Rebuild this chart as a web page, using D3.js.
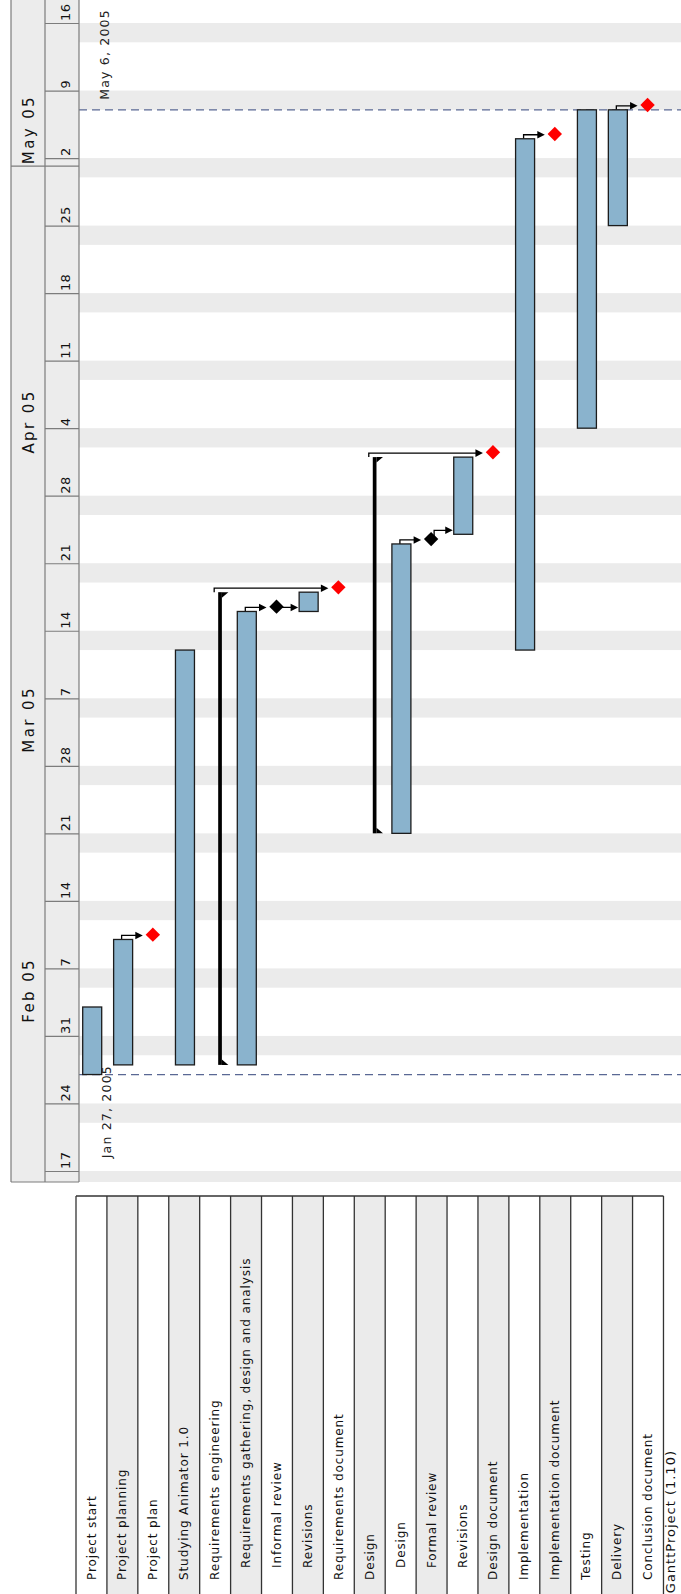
<!DOCTYPE html>
<html>
<head>
<meta charset="utf-8">
<script src="https://cdn.jsdelivr.net/npm/d3@7"></script>
<style>
  html, body { margin: 0; padding: 0; background: #ffffff; }
  svg { display: block; }
  text { font-family: "DejaVu Sans", "Noto Sans", sans-serif; }
</style>
</head>
<body>
<svg id="chart" width="681" height="1594"></svg>
<script>
// ---- Project data ---------------------------------------------------------
const taskNames = [
  "Project start",
  "Project planning",
  "Project plan",
  "Studying Animator 1.0",
  "Requirements engineering",
  "Requirements gathering, design and analysis",
  "Informal review",
  "Revisions",
  "Requirements document",
  "Design",
  "Design",
  "Formal review",
  "Revisions",
  "Design document",
  "Implementation",
  "Implementation document",
  "Testing",
  "Delivery",
  "Conclusion document"
];
const taskIndent = [0, 0, 0, 0, 0, 1, 1, 1, 0, 0, 1, 1, 1, 0, 0, 0, 0, 0, 0];
const taskKinds = [
  "task", "task", "milestone", "task", "summary", "task", "milestone", "task", "milestone",
  "summary", "task", "milestone", "task", "milestone", "task", "milestone", "task", "task", "milestone"
];
// start dates; end dates are exclusive (first day after the task)
const taskStarts = [
  "2005-01-27", "2005-01-28", "2005-02-10", "2005-01-28", "2005-01-28", "2005-01-28", "2005-03-16",
  "2005-03-16", "2005-03-18", "2005-02-21", "2005-02-21", "2005-03-23", "2005-03-24", "2005-04-01",
  "2005-03-12", "2005-05-04", "2005-04-04", "2005-04-25", "2005-05-07"
];
const taskEnds = [
  "2005-02-03", "2005-02-10", null, "2005-03-12", "2005-03-18", "2005-03-16", null,
  "2005-03-18", null, "2005-04-01", "2005-03-23", null, "2005-04-01", null,
  "2005-05-04", null, "2005-05-07", "2005-05-07", null
];
// deliverable milestones vs. review milestones
const milestoneDeliverable = [false, false, true, false, false, false, false, false, true,
  false, false, false, false, true, false, true, false, false, true];
// finish-to-start dependencies [from, to]
const dependencies = [[1, 2], [5, 6], [6, 7], [4, 8], [10, 11], [11, 12], [9, 13], [14, 15], [17, 18]];

const timelineRange = ["2005-01-17", "2005-05-16"];
const markerDates = ["2005-01-27", "2005-05-07"];
const markerLabels = ["Jan 27, 2005", "May 6, 2005"];
const footerLabel = "GanttProject (1.10)";

// ---- Scales -----------------------------------------------------------------
const parse = d3.utcParse("%Y-%m-%d");
const DAY = 864e5;
const svg = d3.select("#chart");

const chartTop = 0, chartBottom = 1182;
const headerLeft = 11, headerMid = 45, headerRight = 79, chartRight = 681;

// time runs bottom -> top
const y = d3.scaleUtc()
  .domain(timelineRange.map(parse))
  .range([1171, 23]);
const dayPx = y(y.domain()[0]) - y(new Date(+y.domain()[0] + DAY));

// task rows run left -> right
const row = d3.scaleBand()
  .domain(d3.range(taskNames.length))
  .range([76, 76 + 30.92 * taskNames.length])
  .padding(0);

const tasks = taskNames.map((name, i) => ({
  i, name,
  kind: taskKinds[i],
  start: parse(taskStarts[i]),
  end: taskEnds[i] ? parse(taskEnds[i]) : null,
  deliverable: milestoneDeliverable[i],
  indent: taskIndent[i]
}));

// ---- Chart background: weekend stripes ---------------------------------------
const chart = svg.append("g");
chart.append("defs").append("clipPath").attr("id", "chartClip")
  .append("rect").attr("x", headerRight).attr("y", chartTop)
  .attr("width", chartRight - headerRight).attr("height", chartBottom - chartTop);

const plot = chart.append("g").attr("clip-path", "url(#chartClip)");
const saturdays = d3.utcSaturday.range(new Date(+y.domain()[0] - 3 * DAY), new Date(+y.domain()[1] + DAY));
plot.selectAll("rect.weekend").data(saturdays).join("rect")
  .attr("class", "weekend")
  .attr("x", headerRight)
  .attr("width", chartRight - headerRight)
  .attr("y", d => y(new Date(+d + 2 * DAY)))
  .attr("height", d => y(d) - y(new Date(+d + 2 * DAY)))
  .attr("fill", "#ebebeb");

// project start / end markers
const markers = markerDates.map(parse);
plot.selectAll("line.marker").data(markers).join("line")
  .attr("class", "marker")
  .attr("x1", headerRight).attr("x2", chartRight)
  .attr("y1", d => y(d)).attr("y2", d => y(d))
  .attr("stroke", "#5a6894").attr("stroke-width", 1.2)
  .attr("stroke-dasharray", "8,5");

// ---- Dependencies -----------------------------------------------------------
function barLeft(t) { return row(t.i) + 6.7; }
function msCenter(t) { return [row(t.i) + 15, y(t.start) - dayPx / 2]; }

const depLayer = plot.append("g");
dependencies.forEach(([a, b]) => {
  const src = tasks[a], dst = tasks[b];
  const ay = y(dst.start) - 4;
  let sx, sy;
  if (src.kind === "task") { sx = barLeft(src) + 8; sy = y(src.end); }
  else if (src.kind === "summary") { sx = row(src.i) + 18.5 - 4; sy = y(src.end); }
  else { const c = msCenter(src); sx = c[0] + 3; sy = c[1]; }
  const tip = dst.kind === "milestone" ? msCenter(dst)[0] - 10 : barLeft(dst) - 1;
  depLayer.append("path")
    .attr("d", `M${sx},${sy}V${ay}H${tip - 6}`)
    .attr("fill", "none").attr("stroke", "#000").attr("stroke-width", 1.3);
  depLayer.append("path")
    .attr("d", `M${tip},${ay}L${tip - 7.5},${ay - 3.8}L${tip - 7.5},${ay + 3.8}Z`)
    .attr("fill", "#000");
});

// ---- Task bars ---------------------------------------------------------------
plot.selectAll("rect.bar").data(tasks.filter(t => t.kind === "task")).join("rect")
  .attr("class", "bar")
  .attr("x", barLeft)
  .attr("width", 19)
  .attr("y", t => y(t.end))
  .attr("height", t => y(t.start) - y(t.end))
  .attr("fill", "#8ab3cd")
  .attr("stroke", "#1c1c1c").attr("stroke-width", 1.3);

// summary tasks: thin black bar with flags at both ends
const summaries = plot.selectAll("g.summary").data(tasks.filter(t => t.kind === "summary")).join("g")
  .attr("class", "summary");
summaries.append("rect")
  .attr("x", t => row(t.i) + 18.5)
  .attr("width", 3.7)
  .attr("y", t => y(t.end))
  .attr("height", t => y(t.start) - y(t.end))
  .attr("fill", "#000");
summaries.append("path")
  .attr("d", t => {
    const r = row(t.i) + 22.2, top = y(t.end), bot = y(t.start);
    return `M${r},${top}L${r + 6.5},${top}L${r},${top + 5.5}Z M${r},${bot}L${r + 6.5},${bot}L${r},${bot - 5.5}Z`;
  })
  .attr("fill", "#000");

// milestones
plot.selectAll("path.milestone").data(tasks.filter(t => t.kind === "milestone")).join("path")
  .attr("class", "milestone")
  .attr("d", t => {
    const [cx, cy] = msCenter(t), h = 7.2;
    return `M${cx},${cy - h}L${cx + h},${cy}L${cx},${cy + h}L${cx - h},${cy}Z`;
  })
  .attr("fill", t => t.deliverable ? "#ff0000" : "#000000");

// marker labels
chart.append("text")
  .attr("transform", `translate(110.5,${y(markers[0]) - 9.5}) rotate(-90)`)
  .attr("text-anchor", "end")
  .attr("font-size", 12.5).attr("letter-spacing", 1.2).attr("fill", "#222")
  .text(markerLabels[0]);
chart.append("text")
  .attr("transform", `translate(109,${y(markers[1]) - 10}) rotate(-90)`)
  .attr("text-anchor", "start")
  .attr("font-size", 12.5).attr("letter-spacing", 1.2).attr("fill", "#222")
  .text(markerLabels[1]);

// ---- Timeline header ---------------------------------------------------------
const header = svg.append("g");
header.append("rect")
  .attr("x", headerLeft).attr("y", chartTop)
  .attr("width", headerRight - headerLeft).attr("height", chartBottom - chartTop)
  .attr("fill", "#ececec");

const weekAxis = d3.axisRight(y)
  .ticks(d3.utcMonday.every(1))
  .tickSize(headerRight - headerMid)
  .tickFormat(d3.utcFormat("%-d"));
const wa = header.append("g")
  .attr("transform", `translate(${headerMid},0)`)
  .call(weekAxis)
  .attr("font-family", null).attr("font-size", null);
wa.select(".domain").remove();
wa.selectAll(".tick line").attr("stroke", "#7c7c7c").attr("stroke-width", 1.2);
wa.selectAll(".tick text")
  .attr("x", 0).attr("dy", null)
  .attr("transform", "translate(24.5,-2.5) rotate(-90)")
  .attr("text-anchor", "start")
  .attr("font-size", 13).attr("letter-spacing", 0.4)
  .attr("fill", "#111");

// month labels
const months = d3.utcMonth.range(new Date(+y.domain()[0] + DAY), y.domain()[1]);
header.selectAll("text.month").data(months).join("text")
  .attr("class", "month")
  .attr("transform", d => `translate(34,${y(d) - 3.5}) rotate(-90)`)
  .attr("text-anchor", "start")
  .attr("font-size", 15).attr("letter-spacing", 2.4).attr("fill", "#111")
  .text(d3.utcFormat("%b %y"));

// separator before the last month
header.append("line")
  .attr("x1", headerLeft).attr("x2", headerRight)
  .attr("y1", y(months[months.length - 1]) - 1.5).attr("y2", y(months[months.length - 1]) - 1.5)
  .attr("stroke", "#7c7c7c").attr("stroke-width", 1.2);

// header frame
[headerLeft, headerMid, headerRight].forEach(x => {
  header.append("line")
    .attr("x1", x).attr("x2", x).attr("y1", chartTop).attr("y2", chartBottom)
    .attr("stroke", "#7c7c7c").attr("stroke-width", 1.2);
});
header.append("line")
  .attr("x1", headerLeft).attr("x2", headerRight).attr("y1", chartBottom).attr("y2", chartBottom)
  .attr("stroke", "#7c7c7c").attr("stroke-width", 1.2);

// ---- Task table ------------------------------------------------------------
const tableTop = 1196, tableBottom = 1594;
const table = svg.append("g");
table.selectAll("rect.cell").data(tasks).join("rect")
  .attr("class", "cell")
  .attr("x", t => row(t.i))
  .attr("width", row.bandwidth())
  .attr("y", tableTop)
  .attr("height", tableBottom - tableTop)
  .attr("fill", t => t.i % 2 ? "#ebebeb" : "#ffffff");

table.selectAll("line.sep").data(d3.range(taskNames.length + 1)).join("line")
  .attr("class", "sep")
  .attr("x1", i => row.range()[0] + row.step() * i)
  .attr("x2", i => row.range()[0] + row.step() * i)
  .attr("y1", tableTop).attr("y2", tableBottom)
  .attr("stroke", "#333").attr("stroke-width", 1.3);
table.append("line")
  .attr("x1", row.range()[0]).attr("x2", row.range()[1])
  .attr("y1", tableTop).attr("y2", tableTop)
  .attr("stroke", "#333").attr("stroke-width", 1.5);

table.selectAll("text.name").data(tasks).join("text")
  .attr("class", "name")
  .attr("transform", t => `translate(${row(t.i) + 19.5},${1580 - t.indent * 12}) rotate(-90)`)
  .attr("text-anchor", "start")
  .attr("font-size", 12).attr("letter-spacing", 0.9).attr("fill", "#111")
  .text(t => t.name);

svg.append("text")
  .attr("transform", "translate(675,1450) rotate(-90)")
  .attr("text-anchor", "end")
  .attr("font-size", 13).attr("letter-spacing", 1).attr("fill", "#111")
  .text(footerLabel);
</script>
</body>
</html>
